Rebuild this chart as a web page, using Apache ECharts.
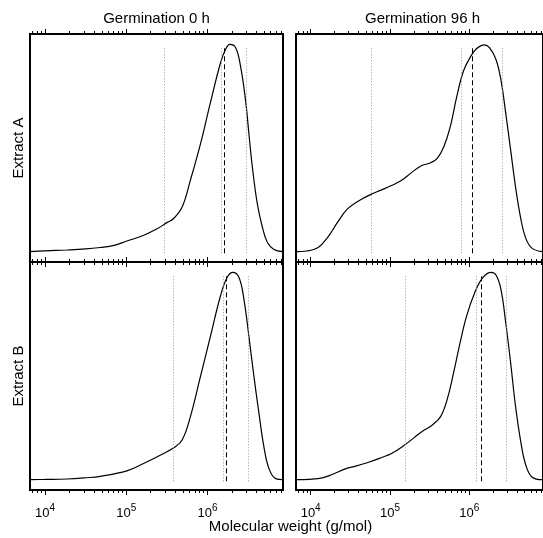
<!DOCTYPE html>
<html>
<head>
<meta charset="utf-8">
<script src="https://cdn.jsdelivr.net/npm/echarts@6/dist/echarts.min.js"></script>
<style>
  html, body { margin: 0; padding: 0; background: #fff; }
  #chart { width: 543px; height: 538px; }
</style>
</head>
<body>
<div id="chart"></div>
<script>
// axis range, in log10(g/mol)
const xMin = 3.815, xMax = 6.93;
const yMin = -0.05, yMax = 1.05;
const decadeExps = [4, 5, 6];
const minorFactors = [2, 3, 4, 5, 6, 7, 8, 9];

const colTitles = ['Germination 0 h', 'Germination 96 h'];
const rowTitles = ['Extract A', 'Extract B'];
const xName = 'Molecular weight (g/mol)';

// Extract A, 0 h  (x = log10 Mw, y = normalised signal)
const logMwA0 = [3.815, 4.0, 4.268, 4.5, 4.679, 4.85, 5.0, 5.21, 5.379, 5.5, 5.584, 5.688, 5.79, 5.914, 6.037, 6.16, 6.222, 6.275, 6.346, 6.407, 6.469, 6.51, 6.552, 6.614, 6.675, 6.737, 6.819, 6.93];
const sigA0   = [0, 0.004, 0.008, 0.013, 0.02, 0.03, 0.05, 0.078, 0.11, 0.14, 0.16, 0.215, 0.345, 0.52, 0.72, 0.91, 0.975, 1.0, 0.985, 0.895, 0.73, 0.57, 0.41, 0.23, 0.12, 0.045, 0.01, 0];
const dottedA0 = [5.473, 6.169, 6.481];
const dashedA0 = [6.201];

// Extract A, 96 h
const logMwA96 = [3.818, 3.95, 4.094, 4.217, 4.34, 4.464, 4.609, 4.753, 4.896, 5.02, 5.143, 5.267, 5.39, 5.514, 5.596, 5.679, 5.761, 5.843, 5.926, 6.008, 6.09, 6.193, 6.255, 6.337, 6.399, 6.46, 6.522, 6.584, 6.646, 6.707, 6.79, 6.93];
const sigA96   = [0, 0.003, 0.02, 0.07, 0.142, 0.206, 0.246, 0.275, 0.298, 0.319, 0.343, 0.38, 0.413, 0.429, 0.45, 0.506, 0.603, 0.749, 0.87, 0.935, 0.979, 0.998, 0.984, 0.927, 0.83, 0.668, 0.49, 0.312, 0.167, 0.07, 0.017, 0];
const dottedA96 = [4.761, 5.897, 6.415];
const dashedA96 = [6.033];

// Extract B, 0 h
const logMwB0 = [3.815, 4.0, 4.268, 4.5, 4.679, 5.008, 5.214, 5.46, 5.584, 5.688, 5.79, 5.914, 6.037, 6.16, 6.243, 6.313, 6.387, 6.449, 6.51, 6.572, 6.634, 6.695, 6.757, 6.84, 6.93];
const sigB0   = [0, 0.001, 0.003, 0.009, 0.016, 0.042, 0.078, 0.126, 0.154, 0.191, 0.304, 0.498, 0.692, 0.886, 0.976, 1.0, 0.976, 0.87, 0.692, 0.498, 0.32, 0.158, 0.053, 0.005, 0];
const dottedB0 = [5.576, 6.193, 6.502];
const dashedB0 = [6.235];

// Extract B, 96 h
const logMwB96 = [3.818, 4.115, 4.279, 4.444, 4.568, 4.732, 4.896, 5.02, 5.185, 5.309, 5.432, 5.535, 5.638, 5.72, 5.802, 5.884, 5.967, 6.07, 6.173, 6.276, 6.337, 6.399, 6.46, 6.522, 6.584, 6.646, 6.707, 6.79, 6.93];
const sigB96   = [0, 0.006, 0.026, 0.053, 0.065, 0.084, 0.107, 0.126, 0.167, 0.204, 0.239, 0.264, 0.304, 0.385, 0.515, 0.66, 0.79, 0.903, 0.976, 1.0, 0.987, 0.919, 0.757, 0.563, 0.352, 0.191, 0.078, 0.013, 0];
const dottedB96 = [5.197, 6.082, 6.469];
const dashedB96 = [6.152];

const panels = [
  { x: logMwA0,  y: sigA0,  dotted: dottedA0,  dashed: dashedA0 },
  { x: logMwA96, y: sigA96, dotted: dottedA96, dashed: dashedA96 },
  { x: logMwB0,  y: sigB0,  dotted: dottedB0,  dashed: dashedB0 },
  { x: logMwB96, y: sigB96, dotted: dottedB96, dashed: dashedB96 }
];

const majorTicks = decadeExps.slice();
const minorTicks = [];
for (let e = 3; e <= 6; e++) {
  minorFactors.forEach(function (m) {
    const v = e + Math.log10(m);
    if (v >= xMin && v <= xMax) minorTicks.push(v);
  });
}

const font = 'Liberation Sans, Arial, Helvetica, sans-serif';
const gridBoxes = [
  { left: 30,  top: 34,  width: 253, height: 228 },
  { left: 296, top: 34,  width: 253, height: 228 },
  { left: 30,  top: 262, width: 253, height: 228 },
  { left: 296, top: 262, width: 253, height: 228 }
];

const grids = gridBoxes.map(function (b) {
  return Object.assign({ show: true, borderColor: '#000', borderWidth: 2, containLabel: false }, b);
});

function makeX(g, pos, major, labels) {
  return {
    type: 'value', gridIndex: g, position: pos, min: xMin, max: xMax,
    axisLine: { show: false, onZero: false },
    splitLine: { show: false },
    axisTick: {
      show: true, inside: false, length: major ? 5 : 3,
      customValues: major ? majorTicks : minorTicks,
      lineStyle: { color: '#000', width: 1 }
    },
    axisLabel: {
      show: labels, customValues: majorTicks, margin: 15,
      formatter: function (v) { return '{b|10}{s|' + Math.round(v) + '}'; },
      rich: {
        b: { fontSize: 13, fontFamily: font, color: '#000', lineHeight: 16, verticalAlign: 'middle' },
        s: { fontSize: 10, fontFamily: font, color: '#000', lineHeight: 11, padding: [0, 0, 10, 0], verticalAlign: 'middle' }
      }
    }
  };
}

const xAxes = [], yAxes = [], series = [];
panels.forEach(function (p, g) {
  xAxes.push(makeX(g, 'bottom', false, false));
  xAxes.push(makeX(g, 'bottom', true, g >= 2));
  xAxes.push(makeX(g, 'top', false, false));
  xAxes.push(makeX(g, 'top', true, false));
  yAxes.push({
    type: 'value', gridIndex: g, min: yMin, max: yMax,
    axisLine: { show: false, onZero: false }, axisTick: { show: false },
    axisLabel: { show: false }, splitLine: { show: false }
  });

  const lines = [];
  p.dotted.forEach(function (v) {
    lines.push([{ coord: [v, -0.008], lineStyle: { type: [1, 2], color: '#999', width: 1 } }, { coord: [v, 0.985] }]);
  });
  p.dashed.forEach(function (v) {
    lines.push([{ coord: [v, -0.008], lineStyle: { type: [5, 3], color: '#000', width: 1 } }, { coord: [v, 0.985] }]);
  });

  series.push({
    type: 'line', xAxisIndex: g * 4 + 1, yAxisIndex: g,
    data: p.x.map(function (x, i) { return [x, p.y[i]]; }),
    showSymbol: false, smooth: 0.4,
    lineStyle: { color: '#000', width: 1.2 },
    markLine: { silent: true, symbol: 'none', label: { show: false }, data: lines }
  });
});

function txt(s, x, y, rot) {
  return {
    type: 'text', x: x, y: y, rotation: rot || 0,
    style: {
      text: s, fontSize: 15, fontFamily: font, fill: '#000',
      textAlign: 'center', textVerticalAlign: 'middle', align: 'center', verticalAlign: 'middle'
    }
  };
}

const chart = echarts.init(document.getElementById('chart'));
chart.setOption({
  animation: false,
  backgroundColor: '#fff',
  grid: grids,
  xAxis: xAxes,
  yAxis: yAxes,
  series: series,
  graphic: [
    txt(colTitles[0], 156.5, 19),
    txt(colTitles[1], 422.5, 19),
    txt(rowTitles[0], 19, 148, Math.PI / 2),
    txt(rowTitles[1], 19, 376, Math.PI / 2),
    txt(xName, 290.5, 527)
  ]
});
</script>
</body>
</html>
